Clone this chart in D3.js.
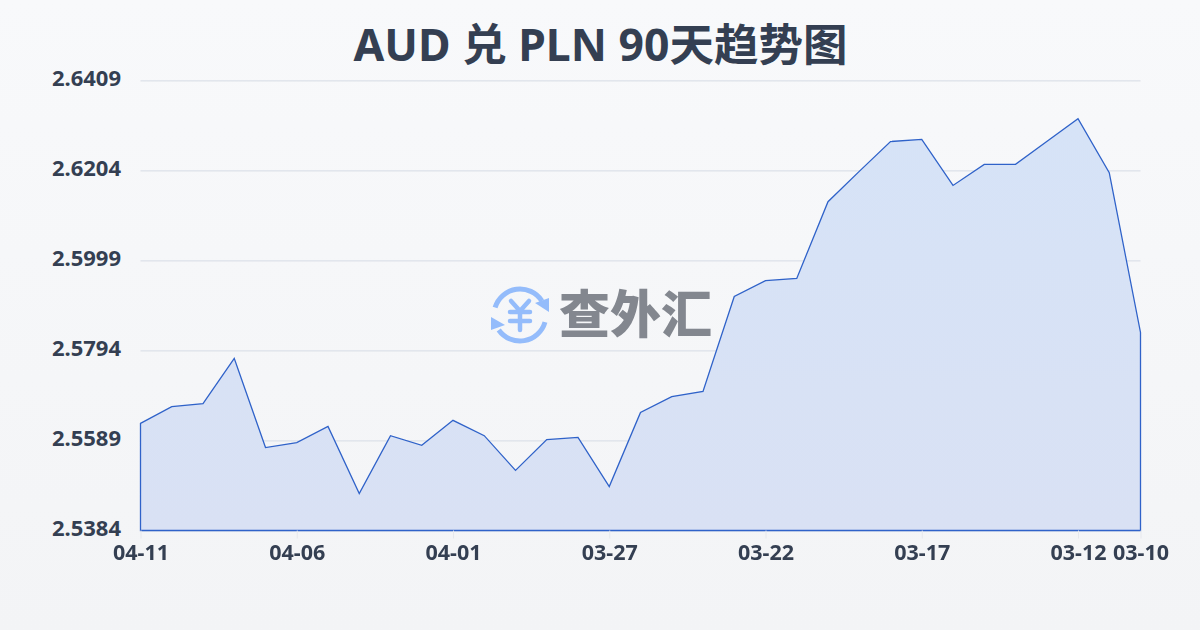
<!DOCTYPE html>
<html><head><meta charset="utf-8">
<script src="https://cdn.jsdelivr.net/npm/d3@7"></script>
<style>
html,body{margin:0;padding:0;width:1200px;height:630px;overflow:hidden}
svg{display:block}
</style></head><body>
<svg id="c" width="1200" height="630"></svg>
<script>
const titleText = "AUD 兑 PLN 90天趋势图";
const watermarkText = "查外汇";
const dates = ["04-11","04-10","04-09","04-08","04-07","04-06","04-05","04-04","04-03","04-02","04-01","03-31","03-30","03-29","03-28","03-27","03-26","03-25","03-24","03-23","03-22","03-21","03-20","03-19","03-18","03-17","03-16","03-15","03-14","03-13","03-12","03-11","03-10"];
const rates = [2.5628,2.5666,2.5673,2.5776,2.5573,2.5584,2.5621,2.5468,2.5600,2.5578,2.5635,2.5600,2.5521,2.5591,2.5596,2.5484,2.5653,2.5689,2.5701,2.5917,2.5953,2.5958,2.6133,2.6202,2.6270,2.6275,2.6170,2.6218,2.6218,2.6270,2.6322,2.6199,2.5835];
const xTickLabels = ["04-11","04-06","04-01","03-27","03-22","03-17","03-12","03-10"];
const yTickLabels = ["2.6409","2.6204","2.5999","2.5794","2.5589","2.5384"];

const svg = d3.select("#c");
const defs = svg.append("defs");
const bg = defs.append("linearGradient").attr("id","bg").attr("x1",0).attr("y1",0).attr("x2",0).attr("y2",1);
bg.append("stop").attr("offset",0).attr("stop-color","#f8f9fb");
bg.append("stop").attr("offset",1).attr("stop-color","#f3f4f6");
const ag = defs.append("linearGradient").attr("id","ag").attr("x1",0).attr("y1",0).attr("x2",0).attr("y2",1);
ag.append("stop").attr("offset",0).attr("stop-color","#d6e3f7");
ag.append("stop").attr("offset",1).attr("stop-color","#d9e1f4");
svg.append("rect").attr("width",1200).attr("height",630).attr("fill","url(#bg)");

const sans = "'Noto Sans','Noto Sans CJK SC',sans-serif";
const x = d3.scalePoint().domain(dates).range([140.5,1140.5]);
const y = d3.scaleLinear().domain([2.5384,2.6409]).range([530.5,80.5]);

svg.append("text").attr("x",600.5).attr("y",61).attr("text-anchor","middle")
  .attr("font-family",sans).attr("font-weight",700).attr("font-size",44.5).attr("fill","#343f52").text(titleText);

// Grid
const grid = svg.append("g").call(d3.axisLeft(y).tickValues(yTickLabels.map(Number)).tickSize(-1000).tickFormat(""))
  .attr("transform","translate(140.5,-0.5)");
grid.select(".domain").remove();
grid.selectAll("line").attr("stroke","#eceef2").attr("stroke-width",1);

// Area and line
const area = d3.area().x((d,i)=>x(dates[i])).y0(y(2.5384)).y1(d=>y(d));
svg.append("path").datum(rates).attr("d",area).attr("fill","url(#ag)");
grid.clone(true).attr("opacity",0.6).selectAll("line").attr("stroke","#cfd5e0");
svg.append("path").datum(rates).attr("d",area).attr("fill","none").attr("stroke","#2f62c9").attr("stroke-width",1.3).attr("stroke-linejoin","miter");

// Y tick labels
svg.append("g").call(d3.axisLeft(y).tickValues(yTickLabels.map(Number)).tickSize(0).tickFormat((d,i)=>yTickLabels[i]))
  .attr("transform","translate(130,0)")
  .call(g=>g.select(".domain").remove())
  .call(g=>g.selectAll("text").attr("x",-9).attr("dy","0.32em").attr("text-anchor","end").attr("font-family",sans).attr("font-weight",700).attr("font-size",22).attr("fill","#343f52").attr("transform","translate(0,-2)"));

// X axis
svg.append("g").attr("transform","translate(0,530.5)")
  .call(d3.axisBottom(x).tickValues(xTickLabels).tickSize(8).tickPadding(6))
  .call(g=>g.select(".domain").remove())
  .call(g=>g.selectAll("line").attr("stroke","#e6e8ed"))
  .call(g=>g.selectAll("text").attr("font-family",sans).attr("font-weight",700).attr("font-size",21.5).attr("fill","#343f52"));

// Watermark
const wm = svg.append("g").attr("transform","translate(520,315)");
const blue = "#94bcfb";
const arc = d3.arc().innerRadius(26).outerRadius(26);
wm.append("path").attr("d",arc({startAngle:-1.28,endAngle:1.0})).attr("fill","none").attr("stroke",blue).attr("stroke-width",5).attr("stroke-linecap","round");
wm.append("path").attr("d",arc({startAngle:1.85,endAngle:4.1})).attr("fill","none").attr("stroke",blue).attr("stroke-width",5).attr("stroke-linecap","round");
wm.append("path").attr("d",d3.line()([[29,-17],[29,-3],[15,-12]])+"Z").attr("fill",blue);
wm.append("path").attr("d",d3.line()([[-29,2],[-29,15],[-15,10]])+"Z").attr("fill",blue);
wm.append("path").attr("d","M-9,-14L0,-4L9,-14M-10,-3H10M-10,6H10M0,-4V15").attr("fill","none").attr("stroke",blue).attr("stroke-width",4.5).attr("stroke-linecap","round").attr("stroke-linejoin","round");
svg.append("text").attr("x",559).attr("y",333).attr("font-family","'Noto Sans CJK SC',sans-serif").attr("font-weight",900).attr("font-size",51).attr("fill","#83878f").text(watermarkText);
</script>
</body></html>
